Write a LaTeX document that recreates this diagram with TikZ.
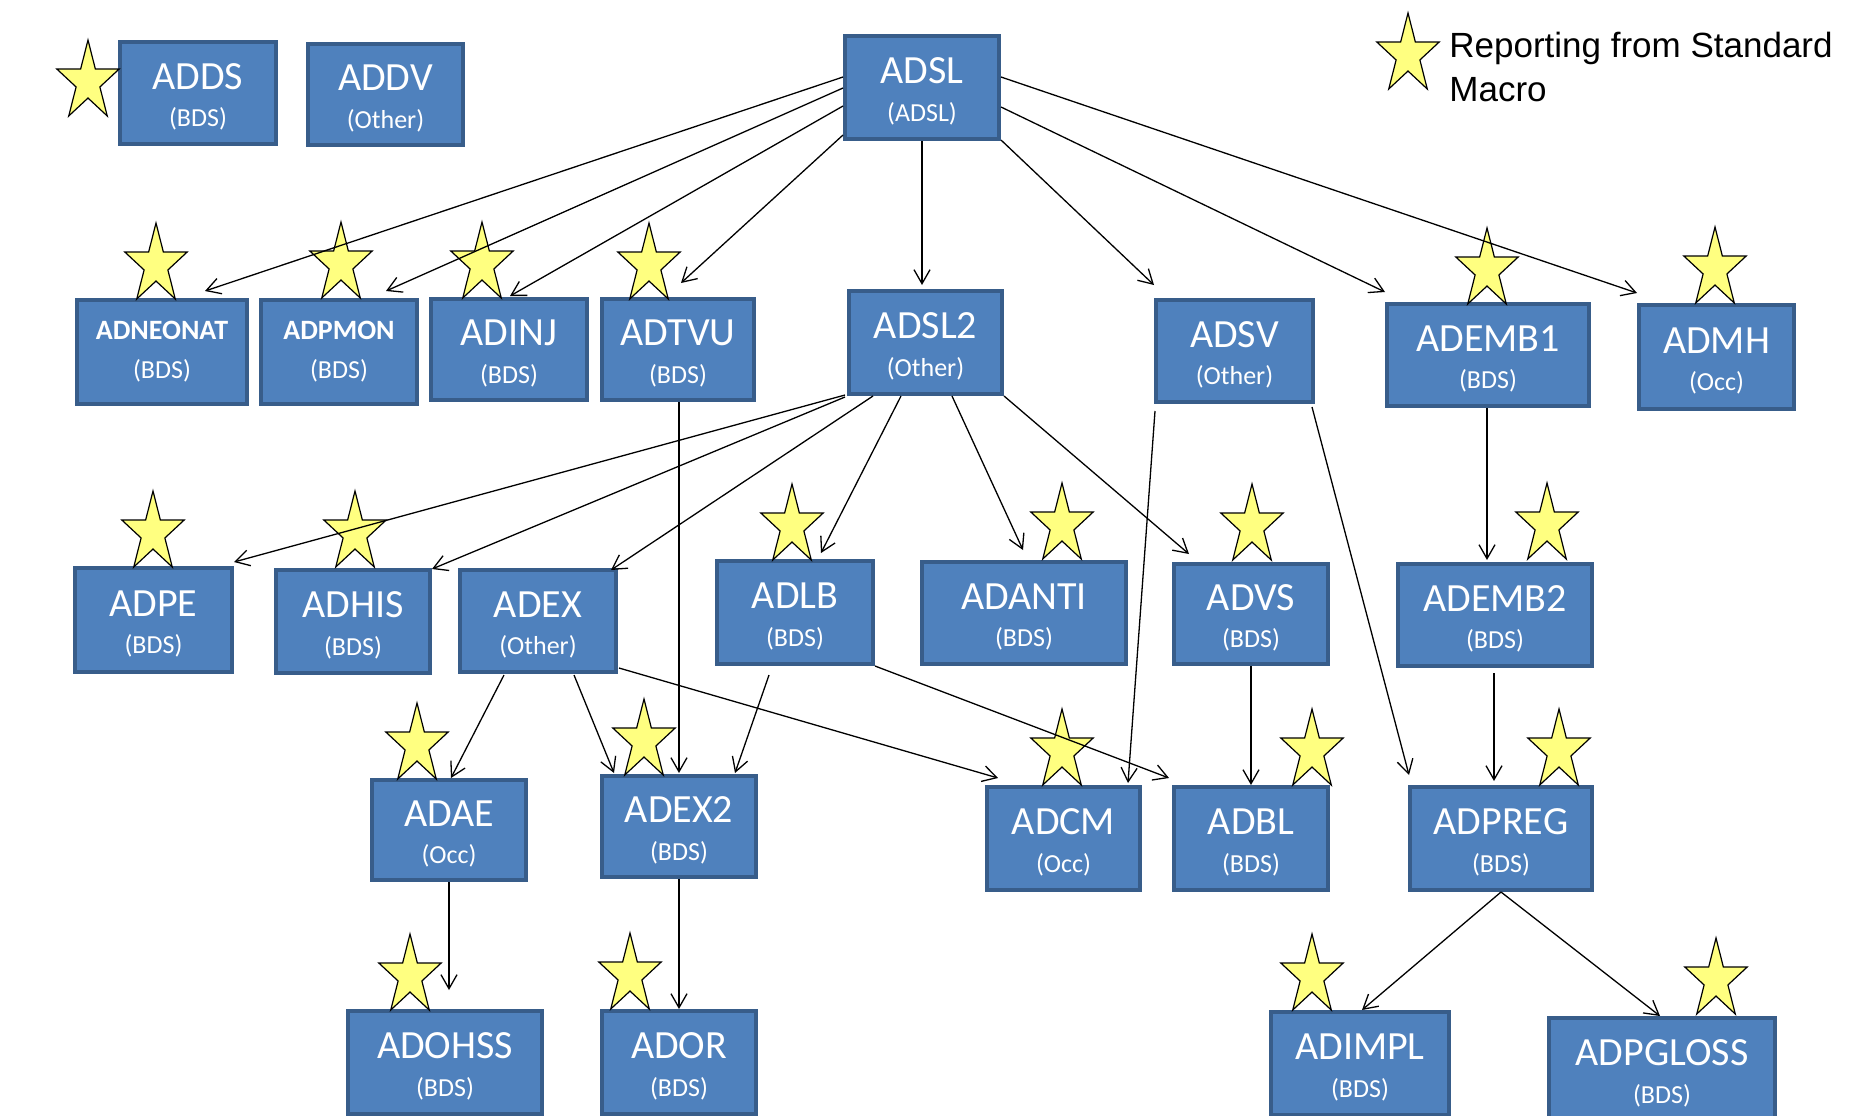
\documentclass[tikz,border=0pt]{standalone}
\usepackage{fontspec}
\setmainfont{Carlito}
\newfontfamily\legendfont{Liberation Sans}
\usetikzlibrary{arrows.meta}
\definecolor{boxfill}{HTML}{4F81BD}
\definecolor{boxline}{HTML}{385D8A}
\definecolor{starfill}{HTML}{FFFF80}
\tikzset{
  bx/.style={draw=boxline, fill=boxfill, line width=2pt, rectangle, outer sep=0pt, inner sep=0pt,
    text=white, align=center, font=\fontsize{20pt}{18.75pt}\selectfont},
  bxb/.style={bx, font=\bfseries\fontsize{14pt}{19.5pt}\selectfont},
  conn/.style={draw=black, line width=0.65pt, -{Straight Barb[length=7pt,width=8pt]}},
  starsty/.style={draw=black, fill=starfill, line width=0.6pt, line join=miter},
}
\newcommand\subt[1]{{\mdseries\fontsize{13pt}{18.75pt}\selectfont #1}}
\newcommand\tstrut{\rule{0pt}{16.9pt}}
\newcommand\starat[2]{\draw[starsty, shift={(#1,#2)}, xscale=0.78]
  (90:21pt) -- (126:8.02pt) -- (162:21pt) -- (198:8.02pt) -- (234:21pt) -- (270:8.02pt)
  -- (306:21pt) -- (342:8.02pt) -- (18:21pt) -- (54:8.02pt) -- cycle;}
\newcommand\conn[6]{\draw[conn] ([shift={(#2,#3)}]#1.center) -- ([shift={(#5,#6)}]#4.center);}
\begin{document}
\begin{tikzpicture}[x=0.5pt,y=-0.5pt]
\useasboundingbox[fill=white] (0,0) rectangle (1868,1115);
% boxes
\node[bx, minimum width=78pt, minimum height=51pt] (adds) at (198,93) {\tstrut ADDS\\\subt{(BDS)}};
\node[bx, minimum width=77.5pt, minimum height=50.5pt] (addv) at (385.5,94.5) {\tstrut ADDV\\\subt{(Other)}};
\node[bx, minimum width=77pt, minimum height=51.5pt] (adsl) at (922,87.5) {\tstrut ADSL\\\subt{(ADSL)}};
\node[bxb, minimum width=85pt, minimum height=52pt] (adneonat) at (162,352) {ADNEONAT\\\subt{(BDS)}};
\node[bxb, minimum width=78pt, minimum height=52pt] (adpmon) at (339,352) {ADPMON\\\subt{(BDS)}};
\node[bx, minimum width=78pt, minimum height=50.5pt] (adinj) at (509,349.5) {\tstrut ADINJ\\\subt{(BDS)}};
\node[bx, minimum width=76pt, minimum height=50.5pt] (adtvu) at (678,349.5) {\tstrut ADTVU\\\subt{(BDS)}};
\node[bx, minimum width=76.5pt, minimum height=51.5pt] (adsl2) at (925.5,342.5) {\tstrut ADSL2\\\subt{(Other)}};
\node[bx, minimum width=78.5pt, minimum height=51pt] (adsv) at (1234.5,351) {\tstrut ADSV\\\subt{(Other)}};
\node[bx, minimum width=101pt, minimum height=51pt] (ademb1) at (1488,355) {\tstrut ADEMB1\\\subt{(BDS)}};
\node[bx, minimum width=77.5pt, minimum height=52pt] (admh) at (1716.5,357) {\tstrut ADMH\\\subt{(Occ)}};
\node[bx, minimum width=78.5pt, minimum height=52pt] (adpe) at (153.5,620) {\tstrut ADPE\\\subt{(BDS)}};
\node[bx, minimum width=77pt, minimum height=51.5pt] (adhis) at (353,621.5) {\tstrut ADHIS\\\subt{(BDS)}};
\node[bx, minimum width=78pt, minimum height=51pt] (adex) at (538,621) {\tstrut ADEX\\\subt{(Other)}};
\node[bx, minimum width=78pt, minimum height=51.5pt] (adlb) at (795,612.5) {\tstrut ADLB\\\subt{(BDS)}};
\node[bx, minimum width=102pt, minimum height=51pt] (adanti) at (1024,613) {\tstrut ADANTI\\\subt{(BDS)}};
\node[bx, minimum width=77pt, minimum height=50pt] (advs) at (1251,614) {\tstrut ADVS\\\subt{(BDS)}};
\node[bx, minimum width=97pt, minimum height=51pt] (ademb2) at (1495,615) {\tstrut ADEMB2\\\subt{(BDS)}};
\node[bx, minimum width=77pt, minimum height=50pt] (adae) at (449,830) {\tstrut ADAE\\\subt{(Occ)}};
\node[bx, minimum width=77pt, minimum height=50.5pt] (adex2) at (679,826.5) {\tstrut ADEX2\\\subt{(BDS)}};
\node[bx, minimum width=76.5pt, minimum height=51.5pt] (adcm) at (1063.5,838.5) {\tstrut ADCM\\\subt{(Occ)}};
\node[bx, minimum width=77pt, minimum height=51.5pt] (adbl) at (1251,838.5) {\tstrut ADBL\\\subt{(BDS)}};
\node[bx, minimum width=91pt, minimum height=51.5pt] (adpreg) at (1501,838.5) {\tstrut ADPREG\\\subt{(BDS)}};
\node[bx, minimum width=97pt, minimum height=51.5pt] (adohss) at (445,1062.5) {\tstrut ADOHSS\\\subt{(BDS)}};
\node[bx, minimum width=77pt, minimum height=51.5pt] (ador) at (679,1062.5) {\tstrut ADOR\\\subt{(BDS)}};
\node[bx, minimum width=89pt, minimum height=51.5pt] (adimpl) at (1360,1063.5) {\tstrut ADIMPL\\\subt{(BDS)}};
\node[bx, minimum width=113pt, minimum height=51.5pt] (adpgloss) at (1662,1069.5) {\tstrut ADPGLOSS\\\subt{(BDS)}};
% legend
\node[font=\legendfont\fontsize{17.5pt}{22pt}\selectfont, align=left, anchor=north west, inner sep=0pt] (legend) at (1449,32) {Reporting from Standard\\Macro};
% stars
\starat{1408}{55}
\starat{88}{82}
\starat{156}{265}
\starat{341}{264}
\starat{482}{264}
\starat{649}{265}
\starat{1487}{270}
\starat{1715}{269}
\starat{153}{533}
\starat{355}{533}
\starat{792}{526}
\starat{1062}{525}
\starat{1252}{526}
\starat{1547}{525}
\starat{417}{745}
\starat{644}{741}
\starat{1062}{751}
\starat{1312}{751}
\starat{1559}{751}
\starat{410}{976}
\starat{630}{975}
\starat{1312}{976}
\starat{1716}{980}
% connectors
\conn{adsl}{-79}{-10.5}{adneonat}{43}{-61}
\conn{adsl}{-79}{0.5}{adpmon}{47}{-61}
\conn{adsl}{-79}{18.5}{adinj}{1}{-53.5}
\conn{adsl}{-79}{47.5}{adtvu}{3}{-66.5}
\conn{adsl}{0}{53.5}{adsl2}{-3.5}{-57.5}
\conn{adsl}{79}{52.5}{adsv}{-80.5}{-66}
\conn{adsl}{79}{19.5}{ademb1}{-103}{-63}
\conn{adsl}{79}{-10.5}{admh}{-79.5}{-64}
\conn{adsl2}{-80.5}{52.5}{adpe}{80.5}{-58}
\conn{adsl2}{-80.5}{54.5}{adhis}{79}{-52.5}
\conn{adsl2}{-52.5}{53.5}{adex}{73}{-51}
\conn{adsl2}{-24.5}{53.5}{adlb}{26}{-59.5}
\conn{adsl2}{26.5}{53.5}{adanti}{-1}{-63}
\conn{adsl2}{78.5}{53.5}{advs}{-62}{-60}
\conn{adtvu}{1}{52.5}{adex2}{0}{-53.5}
\conn{adsv}{-79.5}{60}{adcm}{64.5}{-55.5}
\conn{adsv}{77.5}{56}{adpreg}{-92}{-63.5}
\conn{ademb1}{-1}{53}{ademb2}{-8}{-55}
\conn{adex}{-34}{54}{adae}{2}{-52}
\conn{adex}{36}{54}{adex2}{-65}{-53.5}
\conn{adlb}{-26}{62.5}{adex2}{56}{-53.5}
\conn{adex}{81}{47}{adcm}{-65.5}{-60.5}
\conn{adlb}{80}{53.5}{adbl}{-82}{-60.5}
\conn{advs}{0}{52}{adbl}{0}{-53.5}
\conn{ademb2}{-1}{58}{adpreg}{-7}{-57.5}
\conn{adpreg}{0}{53.5}{adimpl}{2}{-53.5}
\conn{adpreg}{0}{53.5}{adpgloss}{-2}{-53.5}
\conn{adae}{0}{52}{adohss}{4}{-72.5}
\conn{adex2}{0}{52.5}{ador}{0}{-53.5}
\end{tikzpicture}
\end{document}
